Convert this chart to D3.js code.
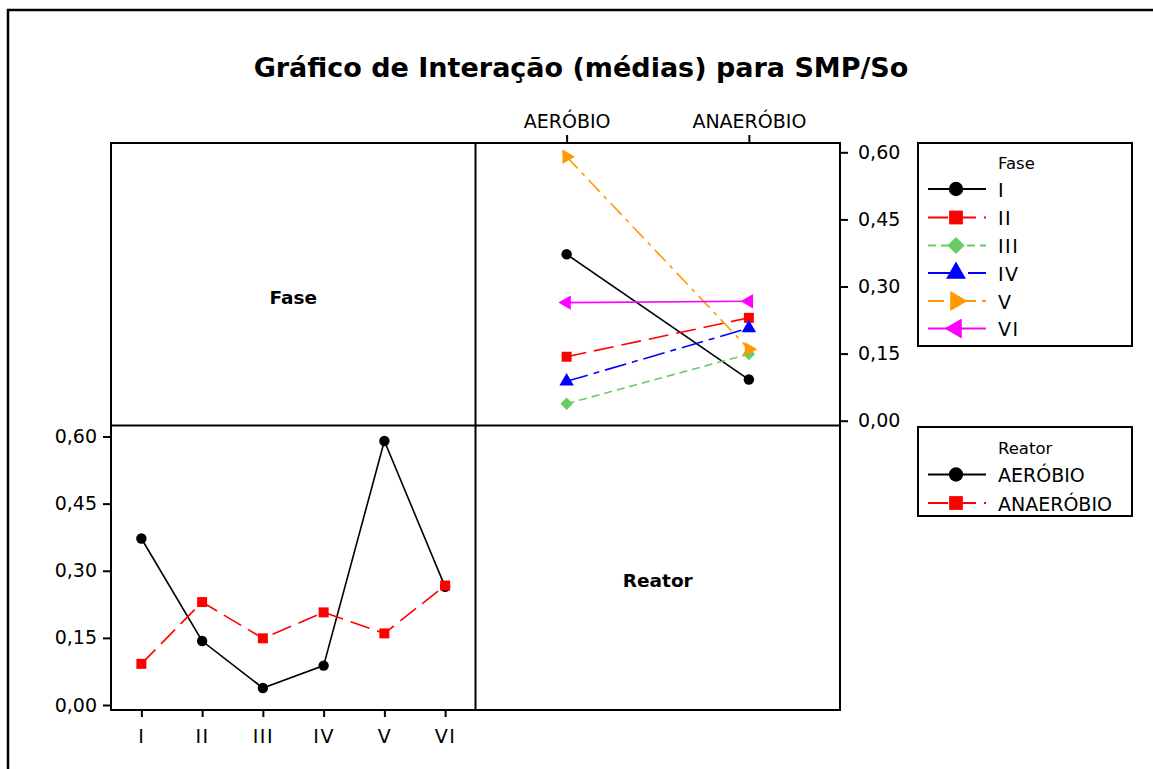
<!DOCTYPE html>
<html>
<head>
<meta charset="utf-8">
<script src="https://cdn.jsdelivr.net/npm/d3@7"></script>
<style>
html,body{margin:0;padding:0;background:#fff;}
svg{display:block;}
</style>
</head>
<body>
<div id="chart"></div>
<script>
// ---------- data ----------
const fases = ["I", "II", "III", "IV", "V", "VI"];
const reatores = ["AERÓBIO", "ANAERÓBIO"];
const mediaAerobio = [0.372, 0.143, 0.038, 0.088, 0.590, 0.264];
const mediaAnaerobio = [0.092, 0.230, 0.149, 0.207, 0.160, 0.267];
const yTicks = [0.00, 0.15, 0.30, 0.45, 0.60];
const titleText = "Gráfico de Interação (médias) para SMP/So";

// ---------- styles ----------
const faseColors = ["#000000", "#FF0000", "#66CC66", "#0000FF", "#FF9900", "#FF00FF"];
const faseDash = [null, "20,8", "8,5", "22,6,6,6", "16,6,4,6", null];
const faseSymbol = ["circle", "square", "diamond", "triUp", "triRight", "triLeft"];
const reatorColors = ["#000000", "#FF0000"];
const reatorDash = [null, "20,8"];
const reatorSymbol = ["circle", "square"];

const W = 1153, H = 769;
const X0 = 111, X1 = 475.5, X2 = 840, Y0 = 143, Y1 = 425.5, Y2 = 710;
const FONT = "DejaVu Sans";

const svg = d3.select("#chart").append("svg").attr("width", W).attr("height", H);

// outer frame
svg.append("path").attr("d", `M8,${H} V10 H${W}`).attr("fill", "none")
  .attr("stroke", "#000").attr("stroke-width", 2.5);

// title
svg.append("text").attr("x", 581).attr("y", 77).attr("text-anchor", "middle")
  .attr("font-family", FONT).attr("font-weight", "bold").attr("font-size", 27)
  .text(titleText);

// scales
const xTop = d3.scalePoint().domain(reatores).range([X1, X2]).padding(0.5);
const yTop = d3.scaleLinear().domain([0, 0.6]).range([420.7, 152.3]);
const xBot = d3.scalePoint().domain(fases).range([X0, X1]).padding(0.5);
const yBot = d3.scaleLinear().domain([0, 0.6]).range([705, 436.5]);

const fmt = d => d3.format(".2f")(d).replace(".", ",");

function symbolPath(name, size) {
  let type = d3.symbolCircle;
  if (name === "square") type = d3.symbolSquare;
  if (name === "diamond") type = d3.symbolSquare;
  if (name.startsWith("tri")) type = d3.symbolTriangle;
  return d3.symbol().type(type).size(size)();
}
function symbolRot(name) {
  if (name === "diamond") return 45;
  if (name === "triRight") return 90;
  if (name === "triLeft") return -90;
  return 0;
}
function symbolSize(name, big) {
  const base = {circle: 85, square: 100, diamond: 78, triUp: 90, triRight: 90, triLeft: 90}[name];
  return big ? base * 1.9 : base;
}
function drawMarker(g, name, x, y, color, big) {
  g.append("path").attr("d", symbolPath(name, symbolSize(name, big)))
    .attr("transform", `translate(${x},${y}) rotate(${symbolRot(name)})`)
    .attr("fill", color).attr("stroke", "none");
}

// axes
function styleAxis(g) {
  g.select(".domain").remove();
  g.selectAll(".tick line").attr("stroke", "#000").attr("stroke-width", 2);
  g.selectAll("text").attr("font-family", FONT).attr("font-size", 19).attr("fill", "#000");
}
svg.append("g").attr("transform", `translate(0,${Y0})`)
  .call(d3.axisTop(xTop).tickSize(8).tickPadding(7)).call(styleAxis);
svg.append("g").attr("transform", `translate(${X2},0)`)
  .call(d3.axisRight(yTop).tickValues(yTicks).tickFormat(fmt).tickSize(8).tickPadding(10)).call(styleAxis);
svg.append("g").attr("transform", `translate(${X0},0)`)
  .call(d3.axisLeft(yBot).tickValues(yTicks).tickFormat(fmt).tickSize(8).tickPadding(6)).call(styleAxis);
svg.append("g").attr("transform", `translate(0,${Y2})`)
  .call(d3.axisBottom(xBot).tickSize(7).tickPadding(13)).call(styleAxis)
  .selectAll("text").attr("letter-spacing", 1.5);

// panel grid
svg.append("rect").attr("x", X0).attr("y", Y0).attr("width", X2 - X0).attr("height", Y2 - Y0)
  .attr("fill", "none").attr("stroke", "#000").attr("stroke-width", 2);
svg.append("line").attr("x1", X1).attr("x2", X1).attr("y1", Y0).attr("y2", Y2)
  .attr("stroke", "#000").attr("stroke-width", 2);
svg.append("line").attr("x1", X0).attr("x2", X2).attr("y1", Y1).attr("y2", Y1)
  .attr("stroke", "#000").attr("stroke-width", 2);

// diagonal labels
svg.append("text").attr("x", (X0 + X1) / 2).attr("y", 304).attr("text-anchor", "middle")
  .attr("font-family", FONT).attr("font-weight", "bold").attr("font-size", 18.5).text("Fase");
svg.append("text").attr("x", (X1 + X2) / 2).attr("y", 587).attr("text-anchor", "middle")
  .attr("font-family", FONT).attr("font-weight", "bold").attr("font-size", 18.5).text("Reator");

// top-right panel: lines per fase
const gTR = svg.append("g");
fases.forEach((f, i) => {
  const pts = [[xTop(reatores[0]), yTop(mediaAerobio[i])], [xTop(reatores[1]), yTop(mediaAnaerobio[i])]];
  gTR.append("path").attr("d", d3.line()(pts)).attr("fill", "none")
    .attr("stroke", faseColors[i]).attr("stroke-width", 1.6)
    .attr("stroke-dasharray", faseDash[i]);
  pts.forEach(p => drawMarker(gTR, faseSymbol[i], p[0], p[1], faseColors[i], false));
});

// bottom-left panel: lines per reator
const gBL = svg.append("g");
[mediaAerobio, mediaAnaerobio].forEach((vals, r) => {
  const pts = fases.map((f, i) => [xBot(f), yBot(vals[i])]);
  gBL.append("path").attr("d", d3.line()(pts)).attr("fill", "none")
    .attr("stroke", reatorColors[r]).attr("stroke-width", 1.6)
    .attr("stroke-dasharray", reatorDash[r]);
  pts.forEach(p => drawMarker(gBL, reatorSymbol[r], p[0], p[1], reatorColors[r], false));
});

// legends
function legend(x, y, w, h, title, titleY, labels, rowsY, colors, dashes, symbols, spacing) {
  const g = svg.append("g");
  g.append("rect").attr("x", x).attr("y", y).attr("width", w).attr("height", h)
    .attr("fill", "#fff").attr("stroke", "#000").attr("stroke-width", 2);
  g.append("text").attr("x", x + 80).attr("y", titleY)
    .attr("font-family", FONT).attr("font-size", 16.5).text(title);
  labels.forEach((lab, i) => {
    const ly = rowsY[i];
    g.append("line").attr("x1", x + 10).attr("x2", x + 68).attr("y1", ly).attr("y2", ly)
      .attr("stroke", colors[i]).attr("stroke-width", 2).attr("stroke-dasharray", dashes[i]);
    drawMarker(g, symbols[i], x + 38, ly, colors[i], true);
    g.append("text").attr("x", x + 80).attr("y", ly + 7.5)
      .attr("font-family", FONT).attr("font-size", 19).attr("letter-spacing", spacing).text(lab);
  });
}
legend(918, 143, 214, 203, "Fase", 169, fases, [189, 217.5, 245.5, 273, 301, 328.5],
  faseColors, faseDash, faseSymbol, 1.5);
legend(918, 427, 214, 89, "Reator", 454, reatores, [474.5, 503],
  reatorColors, reatorDash, reatorSymbol, 0);
</script>
</body>
</html>
